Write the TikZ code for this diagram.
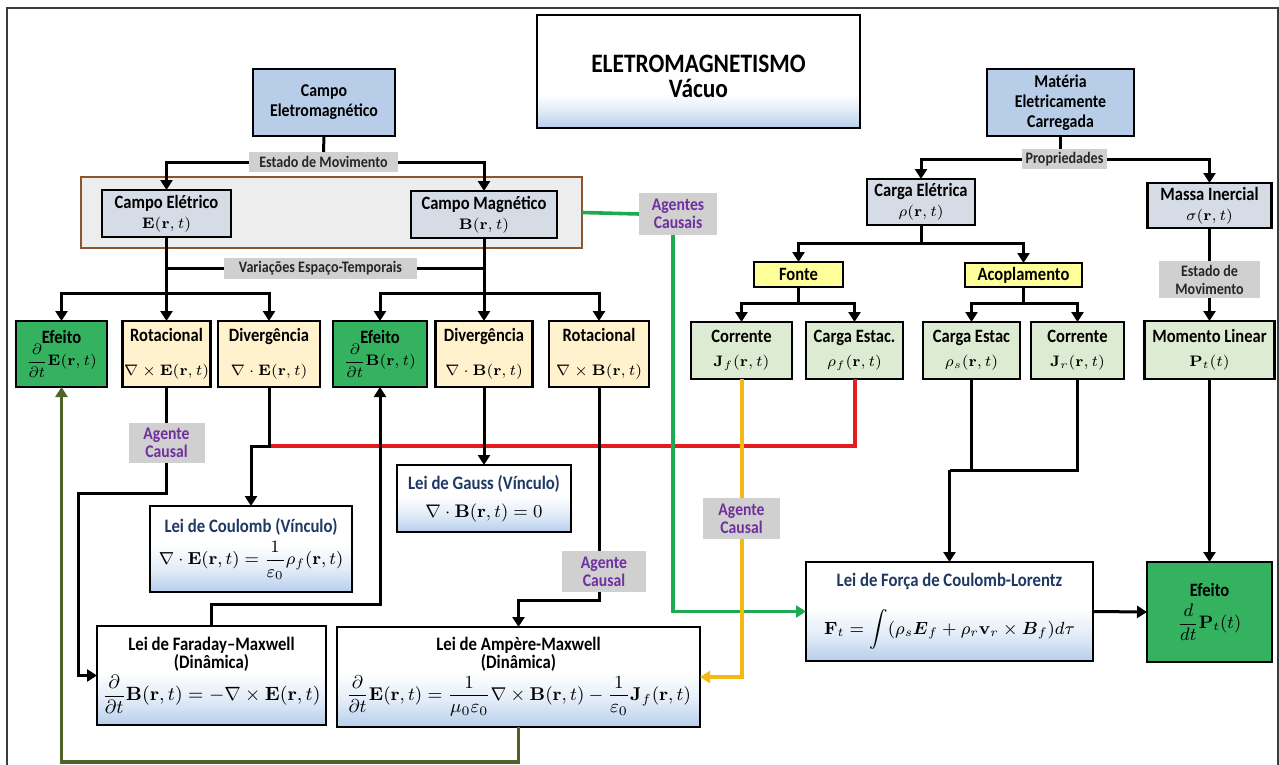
\documentclass[tikz,border=0pt]{standalone}
\usepackage{fix-cm}
\usepackage{amsmath}
\usepackage[no-math]{fontspec}
\newfontfamily\carl{Carlito}[FakeStretch=0.88]
\usetikzlibrary{arrows.meta,calc}

% palette
\definecolor{cblue}{RGB}{184,205,231}
\definecolor{cgrey}{RGB}{214,220,229}
\definecolor{ccont}{RGB}{237,237,237}
\definecolor{cbrown}{RGB}{140,85,45}
\definecolor{ccream}{RGB}{255,242,204}
\definecolor{cgreen}{RGB}{52,178,96}
\definecolor{cmint}{RGB}{221,235,211}
\definecolor{cyel}{RGB}{255,255,153}
\definecolor{ctag}{RGB}{208,208,208}
\definecolor{ctagtxt}{RGB}{38,38,38}
\definecolor{cpurple}{RGB}{112,48,160}
\definecolor{claw}{RGB}{31,56,100}
\definecolor{clawblue}{RGB}{182,206,236}
\colorlet{clawmid}{clawblue!40!white}
\definecolor{cred}{RGB}{228,28,28}
\definecolor{cyline}{RGB}{245,185,20}
\definecolor{cgline}{RGB}{30,170,80}
\definecolor{cdkg}{RGB}{79,98,40}
\definecolor{cframe}{RGB}{60,60,60}

\pgfdeclareverticalshading{lawshade}{100bp}{color(0bp)=(clawblue); color(25bp)=(clawblue); color(38bp)=(clawmid); color(52bp)=(white); color(100bp)=(white)}
\pgfdeclareverticalshading{titleshade}{100bp}{color(0bp)=(clawblue); color(25bp)=(clawblue); color(33bp)=(clawmid); color(40bp)=(white); color(100bp)=(white)}

% fonts
\newcommand\lblfont{\carl\bfseries\fontsize{9.4}{10}\selectfont}
\newcommand\bluefont{\carl\bfseries\fontsize{9}{10}\selectfont}
\newcommand\tagfont{\carl\bfseries\fontsize{8}{9}\selectfont}
\newcommand\causalfont{\carl\bfseries\fontsize{8.9}{9}\selectfont}
\newcommand\lawfont{\carl\bfseries\fontsize{9.5}{9}\selectfont}
\newcommand\titlefont{\carl\bfseries\fontsize{13.3}{12.5}\selectfont}

% math shorthands
\newcommand\xE{\mathbf{E}}
\newcommand\xB{\mathbf{B}}
\newcommand\xJ{\mathbf{J}}
\newcommand\xP{\mathbf{P}}
\newcommand\xF{\mathbf{F}}
\newcommand\xv{\mathbf{v}}
\newcommand\xrt{(\mathbf{r},t)}
\newcommand\mS[1]{{\fontsize{7.6}{10}\selectfont$#1$}}
\newcommand\mL[2]{{\fontsize{#1}{11}\selectfont$\displaystyle #2$}}

\tikzset{
  every node/.style={inner sep=0pt, outer sep=0pt, align=center},
  wh/.style 2 args={minimum width=#1*0.5pt, minimum height=#2*0.5pt},
  bx/.style={draw=black, line width=1.25pt, font=\lblfont},
  bluebox/.style={bx, fill=cblue, font=\bluefont},
  greybox/.style={bx, fill=cgrey},
  creambox/.style={bx, fill=ccream},
  effbox/.style={bx, fill=cgreen},
  mintbox/.style={bx, fill=cmint},
  yelbox/.style={bx, fill=cyel},
  tag/.style={fill=ctag, font=\tagfont, text=ctagtxt},
  causal/.style={fill=ctag, font=\causalfont, text=cpurple},
  lawbox/.style={draw=black, line width=1.25pt, shade, shading=lawshade, font=\lawfont},
  conn/.style={draw=black, line width=1.5pt},
  tip/.style={-{Triangle[length=5pt,width=6pt]}},
  arr/.style={conn, tip},
  redl/.style={draw=cred, line width=2pt},
  yell/.style={draw=cyline, line width=2pt},
  grl/.style={draw=cgline, line width=1.8pt},
  dkgl/.style={draw=cdkg, line width=1.8pt},
}

\begin{document}
\begin{tikzpicture}[x=0.5pt, y=-0.5pt]
\useasboundingbox (0,0) rectangle (1279,765);

% outer frame
\draw[cframe, line width=0.75pt] (7,780) -- (7,8) -- (1278,8) -- (1278,780);

% title
\node[draw=black, line width=1.25pt, shade, shading=titleshade, wh={323}{113}] (title) at (698.5,71.5) {};
\node[font=\titlefont] (titletxt) at (698.5,76) {ELETROMAGNETISMO\\Vácuo};

% ---------------- field side ----------------
\node[bluebox, wh={142}{67}] (em) at (324,102.5) {Campo\\Eletromagnético};
\node[tag, wh={149}{20}] (est) at (323.5,162) {Estado de Movimento};
\node[draw=cbrown, line width=1.25pt, fill=ccont, wh={501}{71}] (cont) at (331.5,212.5) {};
\node[greybox, wh={129}{47}] (ce) at (166.5,213.5) {Campo Elétrico\\\mS{\xE\xrt}};
\node[greybox, wh={146}{47}] (cm) at (484,214.5) {Campo Magnético\\\mS{\xB\xrt}};
\node[tag, wh={193}{21}] (var) at (320.5,268.5) {Variações Espaço-Temporais};

\node[effbox, wh={91}{66}] (ee) at (61.5,354) {Efeito\\[-1pt]\mS{\displaystyle\frac{\partial}{\partial t}\xE\xrt}};
\node[creambox, wh={88}{66}] (re) at (166.5,354) {Rotacional\\[7pt]\mS{\nabla\times\xE\xrt}};
\node[creambox, wh={102}{66}] (de) at (269,354) {Divergência\\[7pt]\mS{\nabla\cdot\xE\xrt}};
\node[effbox, wh={94}{66}] (eb) at (380,354) {Efeito\\[-1pt]\mS{\displaystyle\frac{\partial}{\partial t}\xB\xrt}};
\node[creambox, wh={97}{66}] (db) at (484,354) {Divergência\\[7pt]\mS{\nabla\cdot\xB\xrt}};
\node[creambox, wh={100}{66}] (rb) at (599,354) {Rotacional\\[7pt]\mS{\nabla\times\xB\xrt}};

\node[causal, wh={76}{40}] (ac1) at (166.5,443) {Agente\\Causal};
\node[causal, wh={84}{41}] (ac2) at (604,571.5) {Agente\\Causal};

\node[lawbox, wh={174}{67}] (gau) at (484,498.5) {\textcolor{claw}{Lei de Gauss (Vínculo)}\\[5pt]\mL{9.1}{\nabla\cdot\xB\xrt=0}};
\node[lawbox, wh={202}{86}] (cou) at (251,549) {\textcolor{claw}{Lei de Coulomb (Vínculo)}\\[2pt]\mL{8.7}{\nabla\cdot\xE\xrt=\frac{1}{\varepsilon_0}\rho_f\xrt}};
\node[lawbox, wh={229}{99}] (far) at (211.5,675.5) {Lei de Faraday–Maxwell\\(Dinâmica)\\[1pt]\mL{9.6}{\frac{\partial}{\partial t}\xB\xrt=-\nabla\times\xE\xrt}};
\node[lawbox, wh={363}{100}] (amp) at (518.5,677) {Lei de Ampère-Maxwell\\(Dinâmica)\\[1pt]\mL{9.25}{\frac{\partial}{\partial t}\xE\xrt=\frac{1}{\mu_0\varepsilon_0}\nabla\times\xB\xrt-\frac{1}{\varepsilon_0}\xJ_f\xrt}};

\node[causal, wh={78}{42}] (agc) at (678,214) {Agentes\\Causais};

% ---------------- matter side ----------------
\node[bluebox, wh={147}{67}] (mt) at (1060.5,102.5) {Matéria\\Eletricamente\\Carregada};
\node[tag, wh={85}{20}] (prop) at (1064.5,159) {Propriedades};
\node[greybox, wh={108}{46}] (qe) at (921,202) {Carga Elétrica\\\mS{\rho\xrt}};
\node[greybox, wh={124}{45}] (mi) at (1209.5,205.5) {Massa Inercial\\\mS{\sigma\xrt}};
\node[yelbox, wh={89}{25}] (fo) at (798.5,274.5) {Fonte};
\node[yelbox, wh={117}{24}] (ac) at (1023.5,275) {Acoplamento};
\node[tag, wh={101}{37}] (est2) at (1209.5,279.5) {Estado de\\Movimento};

\node[mintbox, wh={101}{57}] (jf) at (741.5,350.5) {Corrente\\[2pt]\mS{\xJ_f\xrt}};
\node[mintbox, wh={97}{57}] (rf) at (854.5,350.5) {Carga Estac.\\[2pt]\mS{\rho_f\xrt}};
\node[mintbox, wh={97}{57}] (rs) at (971.5,350.5) {Carga Estac\\[2pt]\mS{\rho_s\xrt}};
\node[mintbox, wh={93}{57}] (jr) at (1077.5,350.5) {Corrente\\[2pt]\mS{\xJ_r\xrt}};
\node[mintbox, wh={130}{58}] (pm) at (1209.5,350) {Momento Linear\\[2pt]\mS{\xP_t(t)}};

\node[causal, wh={77}{41}] (ac3) at (741.5,518.5) {Agente\\Causal};

\node[lawbox, wh={287}{99}] (lor) at (949.5,611.5) {\textcolor{claw}{Lei de Força de Coulomb-Lorentz}\\[9pt]\mL{8.8}{\xF_t=\int(\rho_s\boldsymbol{E}_f+\rho_r\xv_r\times\boldsymbol{B}_f)d\tau}};
\node[effbox, wh={125}{100}] (ep) at (1209.5,612) {Efeito\\[3pt]\mL{9}{\frac{d}{dt}\xP_t(t)}};

% ---------------- connectors: field tree ----------------
\draw[conn] (em.south) -- (est.north);
\draw[arr] (est.west) -| (ce.north);
\draw[arr] (est.east) -| (cm.north);

\coordinate (jE) at (166.5,293);
\coordinate (jB) at (484,293);
\draw[conn] (ce.south) -- (jE);
\draw[conn] (cm.south) -- (jB);
\draw[conn] (var.west) -- (var.west -| ce.south);
\draw[conn] (var.east) -- (var.east -| cm.south);
\draw[arr] (jE) -| (ee.north);
\draw[arr] (jE) -- (re.north);
\draw[arr] (jE) -| (de.north);
\draw[arr] (jB) -| (eb.north);
\draw[arr] (jB) -- (db.north);
\draw[arr] (jB) -| (rb.north);

% curl of E drives Faraday
\coordinate (k1) at (166.5,493);
\coordinate (k2) at (78,493);
\draw[conn] (re.south) -- (ac1.north);
\draw[arr] (ac1.south) -- (k1) -- (k2) |- (far.west);

% divergence of E and free charge give Coulomb
\coordinate (kd) at (269,446);
\draw[redl] (rf.south) |- (kd);
\draw[arr] (de.south) -- (kd) -| (cou.north);

% divergence of B gives Gauss
\draw[arr] (db.south) -- (gau.north);

% Faraday back to the time change of B
\coordinate (kb) at (380,604);
\draw[arr] (far.north) |- (kb) -- (eb.south);

% curl of B drives Ampere
\coordinate (kr) at (599,600);
\draw[conn] (rb.south) -- (rb.south |- ac2.north);
\draw[arr] (rb.south |- ac2.south) -- (kr) -| (amp.north);

% Ampere back to the time change of E
\coordinate (kg) at (518.5,762);
\draw[dkgl, tip] (amp.south) -- (kg) -| (ee.south);

% fields act on the charges
\draw[grl] (cont.east) -- (agc.west);
\draw[grl, tip] ([xshift=-2.5pt]agc.south) |- (lor.west);

% ---------------- connectors: matter tree ----------------
\draw[conn] (mt.south) -- (mt.south |- prop.north);
\draw[arr] (prop.west) -| (qe.north);
\draw[arr] (prop.east) -| (mi.north);

\coordinate (jq) at (921,243);
\draw[conn] (qe.south) -- (jq);
\draw[arr] (jq) -| (fo.north);
\draw[arr] (jq) -| (ac.north);

\coordinate (jfo) at (798.5,303);
\coordinate (jac) at (1023.5,303);
\draw[conn] (fo.south) -- (jfo);
\draw[arr] (jfo) -| (jf.north);
\draw[arr] (jfo) -| (rf.north);
\draw[conn] (ac.south) -- (jac);
\draw[arr] (jac) -| (rs.north);
\draw[arr] (jac) -| (jr.north);

\draw[conn] (mi.south) -- (est2.north);
\draw[arr] (est2.south) -- (pm.north);

\coordinate (kl) at (949.5,470);
\draw[conn] (rs.south) -- (rs.south |- kl);
\draw[conn] (jr.south) |- (kl);
\draw[arr] (kl) -- (lor.north);
\draw[arr] (pm.south) -- (ep.north);
\draw[arr] (lor.east) -- (ep.west);

% free current feeds Ampere
\draw[yell] (jf.south) -- (ac3.north);
\draw[yell, tip] (ac3.south) |- (amp.east);
\end{tikzpicture}
\end{document}
